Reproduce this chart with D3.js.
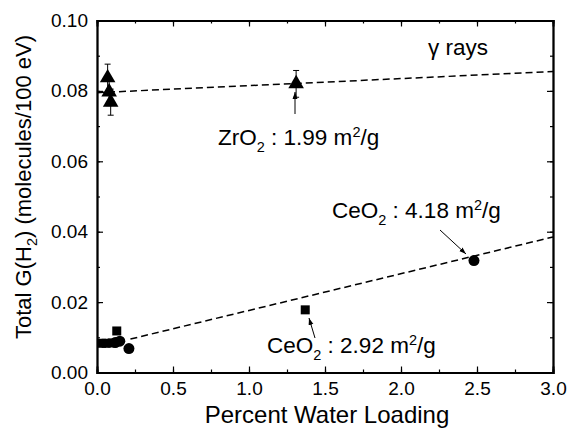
<!DOCTYPE html>
<html>
<head>
<meta charset="utf-8">
<script src="https://cdn.jsdelivr.net/npm/d3@7"></script>
<style>
  body { margin: 0; background: #fff; }
  text { font-family: "Liberation Sans", Arial, sans-serif; fill: #000; }
</style>
</head>
<body>
<div id="chart"></div>
<script>
// ZrO2 triangles (x = % water, y = G(H2), err)
var zrX = [0.07, 0.08, 0.09, 1.31];
var zrY = [0.0837, 0.0797, 0.0768, 0.0820];
var zrErr = [0.0039, 0.0039, 0.0037, 0.0038];

// CeO2 squares and circles
var sqX = [0.03, 0.06, 0.10, 0.13, 1.37];
var sqY = [0.0083, 0.0083, 0.0084, 0.0118, 0.0178];
var ciX = [0.12, 0.15, 0.21, 2.48];
var ciY = [0.0085, 0.0089, 0.0068, 0.0318];

// fitted dashed lines
var zrFitX = [0.0, 3.0];
var zrFitY = [0.0795, 0.0855];
var ceFitX = [0.22, 3.0];
var ceFitY = [0.0095, 0.0385];

var xTicks = [0.0, 0.5, 1.0, 1.5, 2.0, 2.5, 3.0];
var yTicks = [0.00, 0.02, 0.04, 0.06, 0.08, 0.10];

var svgWidth = 569;
var svgHeight = 428;
var margin = { top: 20.5, right: 16, bottom: 55.5, left: 97 };
var width = svgWidth - margin.left - margin.right;
var height = svgHeight - margin.top - margin.bottom;

var svg = d3.select("#chart").append("svg")
    .attr("width", svgWidth)
    .attr("height", svgHeight);

var chartGroup = svg.append("g")
    .attr("transform", `translate(${margin.left}, ${margin.top})`);

var xScale = d3.scaleLinear().domain([0, 3]).range([0, width]);
var yScale = d3.scaleLinear().domain([0, 0.10]).range([height, 0]);

var xMinor = d3.range(0, 3.001, 0.25);
var yMinor = d3.range(0, 0.1001, 0.01);

function styleAxis(g) {
    g.select(".domain").attr("stroke", "#000").attr("stroke-width", 1.8);
    g.selectAll(".tick line").attr("stroke", "#000").attr("stroke-width", 1.2);
}

// minor ticks (inward) on all four sides
chartGroup.append("g").attr("transform", `translate(0, ${height})`)
    .call(d3.axisBottom(xScale).tickValues(xMinor).tickSize(-3).tickFormat(""))
    .call(styleAxis);
chartGroup.append("g")
    .call(d3.axisTop(xScale).tickValues(xMinor).tickSize(-3).tickFormat(""))
    .call(styleAxis);
chartGroup.append("g")
    .call(d3.axisLeft(yScale).tickValues(yMinor).tickSize(-3).tickFormat(""))
    .call(styleAxis);
chartGroup.append("g").attr("transform", `translate(${width}, 0)`)
    .call(d3.axisRight(yScale).tickValues(yMinor).tickSize(-3).tickFormat(""))
    .call(styleAxis);

// major ticks + labels
var xAxis = chartGroup.append("g").attr("transform", `translate(0, ${height})`)
    .call(d3.axisBottom(xScale).tickValues(xTicks).tickSize(-6).tickPadding(9).tickFormat(d3.format(".1f")))
    .call(styleAxis);
xAxis.selectAll("text").attr("font-size", 19);

var yAxis = chartGroup.append("g")
    .call(d3.axisLeft(yScale).tickValues(yTicks).tickSize(-6).tickPadding(9).tickFormat(d3.format(".2f")))
    .call(styleAxis);
yAxis.selectAll("text").attr("font-size", 19);

chartGroup.append("g")
    .call(d3.axisTop(xScale).tickValues(xTicks).tickSize(-6).tickFormat(""))
    .call(styleAxis);
chartGroup.append("g").attr("transform", `translate(${width}, 0)`)
    .call(d3.axisRight(yScale).tickValues(yTicks).tickSize(-6).tickFormat(""))
    .call(styleAxis);

// axis titles
svg.append("text")
    .attr("x", 327).attr("y", 423)
    .attr("text-anchor", "middle")
    .attr("font-size", 24)
    .text("Percent Water Loading");

var yTitle = svg.append("text")
    .attr("transform", "translate(31, 187) rotate(-90)")
    .attr("text-anchor", "middle")
    .attr("font-size", 22);
yTitle.append("tspan").text("Total G(H");
yTitle.append("tspan").attr("font-size", 14.5).attr("dy", 6).text("2");
yTitle.append("tspan").attr("dy", -6).text(") (molecules/100 eV)");

// dashed fit lines
var line = d3.line().x(d => xScale(d[0])).y(d => yScale(d[1]));
[[zrFitX, zrFitY], [ceFitX, ceFitY]].forEach(function (f) {
    chartGroup.append("path")
        .datum(d3.zip(f[0], f[1]))
        .attr("d", line)
        .attr("fill", "none")
        .attr("stroke", "#000")
        .attr("stroke-width", 1.5)
        .attr("stroke-dasharray", "7,4");
});

// error bars
var zrData = d3.zip(zrX, zrY, zrErr);
var eb = chartGroup.append("g").attr("stroke", "#000").attr("stroke-width", 1);
zrData.forEach(function (d) {
    var x = xScale(d[0]);
    var y1 = yScale(d[1] + d[2]);
    var y2 = yScale(d[1] - d[2]);
    eb.append("line").attr("x1", x).attr("x2", x).attr("y1", y1).attr("y2", y2);
    eb.append("line").attr("x1", x - 3).attr("x2", x + 3).attr("y1", y1).attr("y2", y1);
    eb.append("line").attr("x1", x - 3).attr("x2", x + 3).attr("y1", y2).attr("y2", y2);
});

// triangles
chartGroup.append("g").selectAll("path")
    .data(zrData)
    .enter()
    .append("path")
    .attr("d", d3.symbol().type(d3.symbolTriangle).size(105))
    .attr("transform", d => `translate(${xScale(d[0])}, ${yScale(d[1])})`)
    .attr("fill", "#000");

// squares
chartGroup.append("g").selectAll("rect")
    .data(d3.zip(sqX, sqY))
    .enter()
    .append("rect")
    .attr("x", d => xScale(d[0]) - 4.5)
    .attr("y", d => yScale(d[1]) - 4.5)
    .attr("width", 9)
    .attr("height", 9)
    .attr("fill", "#000");

// circles
chartGroup.append("g").selectAll("circle")
    .data(d3.zip(ciX, ciY))
    .enter()
    .append("circle")
    .attr("cx", d => xScale(d[0]))
    .attr("cy", d => yScale(d[1]))
    .attr("r", 5.5)
    .attr("fill", "#000");

// annotations
svg.append("defs").append("marker")
    .attr("id", "arrow")
    .attr("viewBox", "0 0 10 10")
    .attr("refX", 10).attr("refY", 5)
    .attr("markerWidth", 7).attr("markerHeight", 7)
    .attr("orient", "auto")
    .append("path")
    .attr("d", "M0,1.5 L10,5 L0,8.5 Z")
    .attr("fill", "#000");

function arrow(x1, y1, x2, y2) {
    svg.append("line")
        .attr("x1", x1).attr("y1", y1).attr("x2", x2).attr("y2", y2)
        .attr("stroke", "#000").attr("stroke-width", 1)
        .attr("marker-end", "url(#arrow)");
}

function label(x, y, name, area) {
    var t = svg.append("text").attr("x", x).attr("y", y).attr("font-size", 22.5);
    t.append("tspan").text(name);
    t.append("tspan").attr("font-size", 14.5).attr("dy", 7).text("2");
    t.append("tspan").attr("dy", -7).text(" : " + area + " m");
    t.append("tspan").attr("font-size", 14.5).attr("dy", -8).text("2");
    t.append("tspan").attr("dy", 8).text("/g");
}

svg.append("text").attr("x", 428).attr("y", 55).attr("font-size", 22.5).text("γ rays");

label(218, 145, "ZrO", "1.99");
arrow(295, 114, 295, 92);

label(332, 218, "CeO", "4.18");
arrow(440, 230, 466, 254);

label(267, 353, "CeO", "2.92");
arrow(315, 338, 309, 318);
</script>
</body>
</html>
